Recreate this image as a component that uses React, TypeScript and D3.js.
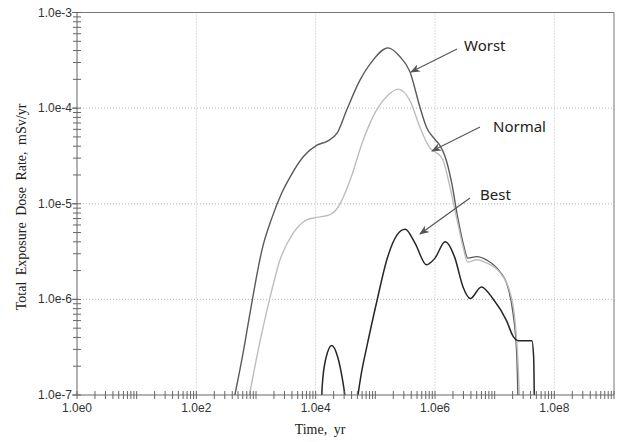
import React from 'react';
import * as d3 from 'd3';

// time in years, dose rate in mSv/yr
const worstTime = [380, 620, 870, 1260, 1860, 2630, 3720, 6200, 1.05e4, 1.55e4, 2.3e4, 3.3e4, 5.5e4, 9.1e4, 1.62e5, 2.57e5, 3.8e5, 5.6e5, 7.2e5, 1.0e6, 1.2e6, 1.48e6, 1.9e6, 2.4e6, 2.95e6, 3.55e6, 5.0e6, 7.4e6, 1.15e7, 1.66e7, 2.04e7, 2.34e7, 2.5e7];
const worstDose = [6.3e-8, 2.95e-7, 1.0e-6, 3.3e-6, 7.2e-6, 1.25e-5, 1.9e-5, 3.1e-5, 4.1e-5, 4.5e-5, 5.5e-5, 9.5e-5, 1.95e-4, 3.16e-4, 4.27e-4, 3.47e-4, 2.4e-4, 1.02e-4, 6.3e-5, 4.7e-5, 4.1e-5, 3.1e-5, 1.66e-5, 7.2e-6, 3.9e-6, 2.7e-6, 2.8e-6, 2.57e-6, 2.04e-6, 1.35e-6, 7.1e-7, 2.75e-7, 6e-8];

const normalTime = [630, 1175, 1700, 2510, 4170, 7080, 1.05e4, 1.74e4, 2.4e4, 3.8e4, 6.0e4, 9.1e4, 1.55e5, 2.4e5, 3.8e5, 5.6e5, 8.3e5, 1.07e6, 1.35e6, 1.78e6, 2.34e6, 2.95e6, 3.55e6, 5.0e6, 7.4e6, 1.23e7, 1.82e7, 2.19e7, 2.45e7, 2.7e7];
const normalDose = [5e-8, 3.7e-7, 1.02e-6, 2.57e-6, 4.9e-6, 6.8e-6, 7.2e-6, 7.7e-6, 9.3e-6, 1.78e-5, 4.3e-5, 8.1e-5, 1.32e-4, 1.58e-4, 1.2e-4, 6.3e-5, 3.8e-5, 3.4e-5, 2.9e-5, 1.5e-5, 6.8e-6, 3.55e-6, 2.45e-6, 2.6e-6, 2.4e-6, 1.9e-6, 1.17e-6, 6.0e-7, 2.35e-7, 5e-8];

const bestTime = [1.22e4, 1.29e4, 1.48e4, 1.86e4, 2.34e4, 2.9e4, 3.4e4, 4.1e4, 4.9e4, 5.75e4, 7.2e4, 1.07e5, 1.55e5, 2.3e5, 3.16e5, 4.6e5, 7.2e5, 1.0e6, 1.48e6, 2.14e6, 2.95e6, 3.9e6, 6.0e6, 9.3e6, 1.58e7, 2.04e7, 2.5e7, 4.2e7, 4.5e7, 4.7e7];
const bestDose = [4e-8, 1.26e-7, 2.4e-7, 3.3e-7, 2.5e-7, 1.3e-7, 6.3e-8, 2.5e-8, 8e-8, 1.6e-7, 3.2e-7, 9.8e-7, 2.57e-6, 4.7e-6, 5.4e-6, 3.9e-6, 2.3e-6, 2.7e-6, 4.0e-6, 2.75e-6, 1.35e-6, 1.02e-6, 1.35e-6, 1.02e-6, 6.0e-7, 4.1e-7, 3.7e-7, 3.7e-7, 2.5e-7, 3e-8];

const xTickValues = [1e0, 1e2, 1e4, 1e6, 1e8];
const xTickLabels = ['1.0e0', '1.0e2', '1.0e4', '1.0e6', '1.0e8'];
const yTickValues = [1e-3, 1e-4, 1e-5, 1e-6, 1e-7];
const yTickLabels = ['1.0e-3', '1.0e-4', '1.0e-5', '1.0e-6', '1.0e-7'];

const W = 620, H = 442;
const L = 77, R = 614, T = 12.5, B = 395;

const x = d3.scaleLog().domain([1, 1e9]).range([L, R]);
const y = d3.scaleLog().domain([1e-7, 1e-3]).range([B, T]);

const line = d3.line<[number, number]>()
  .x(d => x(d[0]))
  .y(d => y(d[1]))
  .curve(d3.curveMonotoneX);

const zip = (t: number[], v: number[]) => t.map((d, i) => [d, v[i]] as [number, number]);

const series = [
  { name: 'Worst', pts: zip(worstTime, worstDose), color: '#5a5a5a', w: 1.4 },
  { name: 'Normal', pts: zip(normalTime, normalDose), color: '#bdbdbd', w: 1.4 },
  { name: 'Best', pts: zip(bestTime, bestDose), color: '#262626', w: 1.5 },
];

// annotation label + arrow (pixel positions)
const notes = [
  { text: 'Worst', tx: 464, ty: 51, x1: 457, y1: 49, x2: 411, y2: 72 },
  { text: 'Normal', tx: 493, ty: 132, x1: 480, y1: 127, x2: 432, y2: 151 },
  { text: 'Best', tx: 480, ty: 200, x1: 470, y1: 198, x2: 420, y2: 234 },
];

const minorX: number[] = [];
for (let e = 0; e < 9; e++) for (let k = 1; k <= 9; k++) minorX.push(k * Math.pow(10, e));
minorX.push(1e9);
const minorY: number[] = [];
for (let e = -7; e < -3; e++) for (let k = 1; k <= 9; k++) minorY.push(k * Math.pow(10, e));
minorY.push(1e-3);

export default function App() {
  const axisColor = '#666';
  return (
    <svg width={W} height={H} style={{ position: 'absolute', left: 0, top: 0, background: '#fff' }}>
      <defs>
        <clipPath id="plot">
          <rect x={L} y={T} width={R - L} height={B - T} />
        </clipPath>
        <marker id="arrow" viewBox="0 0 10 8" refX="9" refY="4" markerWidth="10" markerHeight="8" orient="auto" markerUnits="userSpaceOnUse">
          <path d="M0,0 L10,4 L0,8 L3,4 Z" fill="#555" />
        </marker>
      </defs>

      {/* grid */}
      {xTickValues.slice(1).map(v => (
        <line key={'gx' + v} x1={x(v)} x2={x(v)} y1={T} y2={B} stroke="#bbb" strokeDasharray="1,2" />
      ))}
      {yTickValues.slice(1, 4).map(v => (
        <line key={'gy' + v} x1={L} x2={R} y1={y(v)} y2={y(v)} stroke="#bbb" strokeDasharray="1,2" />
      ))}

      {/* frame */}
      <line x1={L} x2={R} y1={T} y2={T} stroke="#777" />
      <line x1={R} x2={R} y1={T} y2={B} stroke="#777" />

      {/* curves */}
      <g clipPath="url(#plot)">
        {series.map(s => (
          <path key={s.name} d={line(s.pts) || ''} fill="none" stroke={s.color} strokeWidth={s.w} />
        ))}
      </g>

      {/* axes */}
      <line x1={L} x2={L} y1={T} y2={B} stroke={axisColor} />
      <line x1={L} x2={R} y1={B} y2={B} stroke={axisColor} />
      {minorX.map(v => (
        <line key={'mx' + v} x1={x(v)} x2={x(v)} y1={B - 4} y2={B + 4} stroke={axisColor} />
      ))}
      {minorY.map(v => (
        <line key={'my' + v} x1={L - 4} x2={L + 4} y1={y(v)} y2={y(v)} stroke={axisColor} />
      ))}
      {yTickValues.map(v => (
        <line key={'My' + v} x1={L - 5} x2={L} y1={y(v)} y2={y(v)} stroke={axisColor} />
      ))}

      <g fontFamily="'Liberation Sans', Arial, sans-serif" fontSize={12} fill="#333">
        {xTickValues.map((v, i) => (
          <text key={'xl' + v} x={x(v)} y={412} textAnchor="middle">{xTickLabels[i]}</text>
        ))}
        {yTickValues.map((v, i) => (
          <text key={'yl' + v} x={L - 5} y={y(v) + 4} textAnchor="end">{yTickLabels[i]}</text>
        ))}
      </g>

      {/* axis titles */}
      <text x={320} y={434} textAnchor="middle" fontFamily="'Liberation Serif', 'Times New Roman', serif" fontSize={14} fill="#222" style={{ wordSpacing: '3px' }}>Time, yr</text>
      <text transform={`translate(26,207) rotate(-90)`} textAnchor="middle" fontFamily="'Liberation Serif', 'Times New Roman', serif" fontSize={14} fill="#222" style={{ wordSpacing: '3px' }}>
        Total Exposure Dose Rate, mSv/yr
      </text>

      {/* annotations */}
      {notes.map(n => (
        <g key={n.text}>
          <line x1={n.x1} y1={n.y1} x2={n.x2} y2={n.y2} stroke="#555" strokeWidth={1.2} markerEnd="url(#arrow)" />
          <text x={n.tx} y={n.ty} fontFamily="'Noto Sans', 'Open Sans', sans-serif" fontSize={15} fill="#222">{n.text}</text>
        </g>
      ))}
    </svg>
  );
}
